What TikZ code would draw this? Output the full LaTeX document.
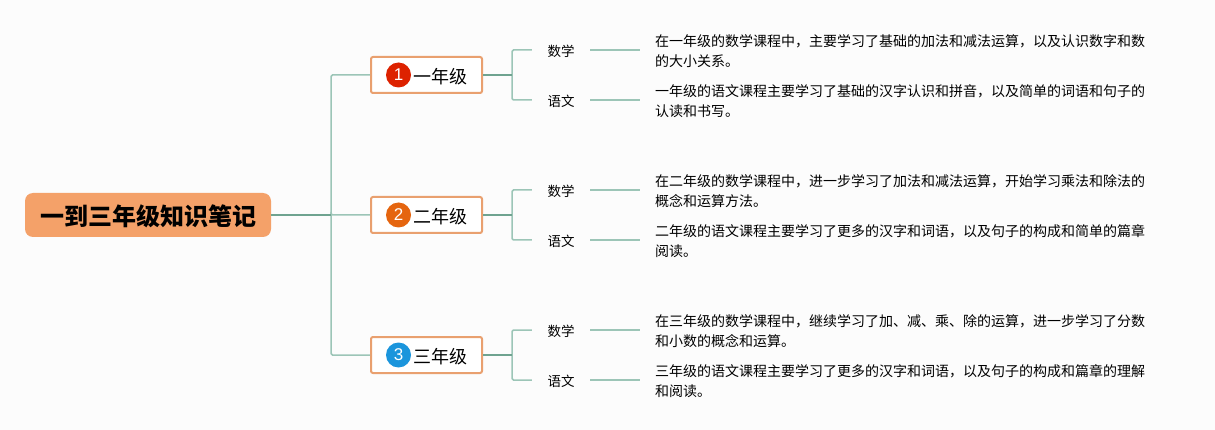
\documentclass[tikz,border=0pt]{standalone}
\usepackage{fontspec}
\setmainfont{Noto Sans CJK SC}
\newfontfamily\badgefont{Liberation Sans}
\definecolor{pagebg}{HTML}{FCFCFC}
\definecolor{rootfill}{HTML}{F4A169}
\definecolor{boxline}{HTML}{E9A06F}
\definecolor{lightline}{HTML}{9CC5B7}
\definecolor{darkline}{HTML}{6FA390}
\definecolor{badge1}{HTML}{DD2200}
\definecolor{badge2}{HTML}{E5650F}
\definecolor{badge3}{HTML}{1B95DC}
\tikzset{
	rootbox/.style={fill=rootfill, rounded corners=8pt, minimum width=246pt, minimum height=44pt, inner sep=0pt, text height=24pt, text depth=2.8pt, font=\fontsize{24}{28}\selectfont\bfseries},
	yearbox/.style={draw=boxline, line width=2pt, fill=white, rounded corners=2pt, minimum width=111pt, minimum height=36pt, inner sep=0pt, text height=18pt, text depth=1.3pt, font=\fontsize{18}{22}\selectfont},
	badgenode/.style={circle, minimum size=25pt, inner sep=0pt, text=white, font=\badgefont\fontsize{17}{17}\selectfont},
	subject/.style={minimum width=58pt, minimum height=20pt, inner sep=0pt, text height=14pt, text depth=.7pt, font=\fontsize{13.5}{16}\selectfont},
	notenode/.style={anchor=west, align=left, inner xsep=15pt, inner ysep=0pt, font=\fontsize{14}{20}\selectfont},
	lightbranch/.style={draw=lightline, line width=1.5pt, rounded corners=1.5pt},
	darkbranch/.style={draw=darkline, line width=1.8pt}
}

\begin{document}
\begin{tikzpicture}[x=1pt,y=-1pt]
\useasboundingbox[fill=pagebg] (0,0) rectangle (1215,430);
\node[rootbox] (root) at (148,215) {一到三年级知识笔记};
\coordinate (rootjoint) at (331,215);
\foreach \n/\ypos/\yearname/\mathnote/\langnote in {
	1/75/一年级/{在一年级的数学课程中，主要学习了基础的加法和减法运算，以及认识数字和数\\的大小关系。}/{一年级的语文课程主要学习了基础的汉字认识和拼音，以及简单的词语和句子的\\认读和书写。},
	2/215/二年级/{在二年级的数学课程中，进一步学习了加法和减法运算，开始学习乘法和除法的\\概念和运算方法。}/{二年级的语文课程主要学习了更多的汉字和词语，以及句子的构成和简单的篇章\\阅读。},
	3/355/三年级/{在三年级的数学课程中，继续学习了加、减、乘、除的运算，进一步学习了分数\\和小数的概念和运算。}/{三年级的语文课程主要学习了更多的汉字和词语，以及句子的构成和篇章的理解\\和阅读。}}{
	\node[yearbox] (year\n) at (426.5,\ypos) {\hspace*{27pt}\yearname};
	\node[badgenode, fill=badge\n] (badge\n) at (398.5,\ypos) {\n};
	\coordinate (joint\n) at (512,\ypos);
	\node[subject] (math\n) at (561,\ypos-25) {数学};
	\node[subject] (lang\n) at (561,\ypos+25) {语文};
	\node[notenode] (mathnote\n) at (640,\ypos-23.5) {\mathnote};
	\node[notenode] (langnote\n) at (640,\ypos+26.5) {\langnote};
	% branches
	\draw[lightbranch] (rootjoint) |- (year\n.west);
	\draw[lightbranch] (joint\n) |- (math\n.west);
	\draw[lightbranch] (joint\n) |- (lang\n.west);
	\draw[lightbranch] (math\n.east) -- (math\n.east -| mathnote\n.west);
	\draw[lightbranch] (lang\n.east) -- (lang\n.east -| langnote\n.west);
	\draw[darkbranch] (year\n.east) -- (joint\n);
}
\draw[darkbranch] (root.east) -- (rootjoint);
\end{tikzpicture}
\end{document}
